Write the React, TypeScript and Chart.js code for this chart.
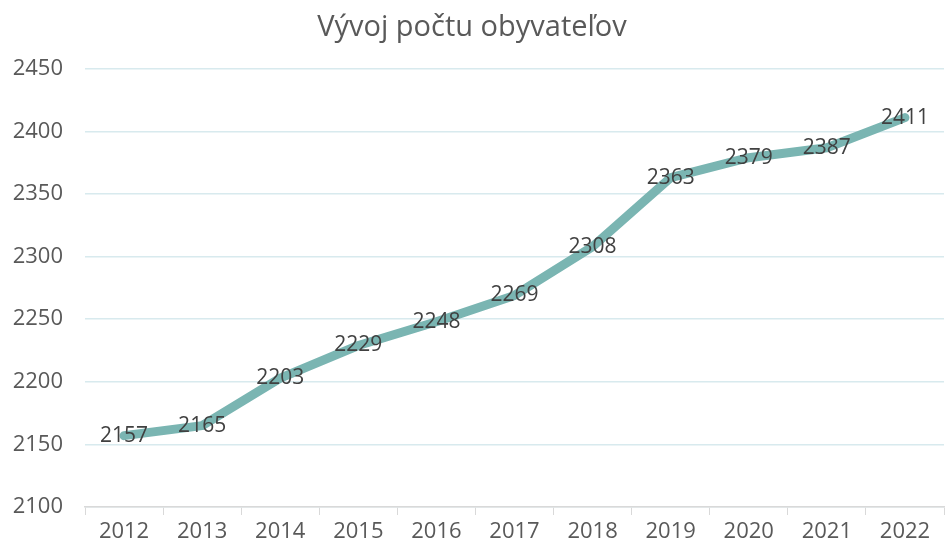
import React, { useEffect, useRef } from "react";
import { Chart, registerables } from "chart.js";

Chart.register(...registerables);

const TITLE = "Vývoj počtu obyvateľov";
const YEARS = ["2012", "2013", "2014", "2015", "2016", "2017", "2018", "2019", "2020", "2021", "2022"];
const POPULATION = [2157, 2165, 2203, 2229, 2248, 2269, 2308, 2363, 2379, 2387, 2411];
const Y_MIN = 2100;
const Y_MAX = 2450;
const Y_STEP = 50;

const FONT = "'Open Sans', Lato, sans-serif";

const labelPlugin = {
  id: "pointLabels",
  afterDatasetsDraw(chart: any) {
    const ctx = chart.ctx;
    const meta = chart.getDatasetMeta(0);
    ctx.save();
    ctx.font = `21px ${FONT}`;
    ctx.fillStyle = "#404040";
    ctx.textAlign = "center";
    ctx.textBaseline = "middle";
    meta.data.forEach((pt: any, i: number) => {
      ctx.fillText(String(chart.data.datasets[0].data[i]), pt.x, pt.y);
    });
    ctx.restore();
  },
};

export default function App() {
  const ref = useRef<HTMLCanvasElement>(null);
  useEffect(() => {
    document.body.style.margin = "0";
    const chart = new Chart(ref.current!, {
      type: "line",
      data: {
        labels: YEARS,
        datasets: [
          {
            data: POPULATION,
            borderColor: "#7ab5b2",
            borderWidth: 9,
            pointRadius: 0,
            borderJoinStyle: "round",
            borderCapStyle: "round",
            tension: 0,
          },
        ],
      },
      options: {
        animation: false,
        responsive: false,
        layout: { padding: { left: 0, right: 2, top: 0, bottom: 0 } },
        plugins: {
          legend: { display: false },
          tooltip: { enabled: false },
          title: {
            display: true,
            text: TITLE,
            color: "#595959",
            font: { family: FONT, size: 29, weight: "normal", lineHeight: 1.2 },
            padding: { top: 10, bottom: 24 },
          },
        },
        scales: {
          x: {
            offset: true,
            afterFit: (s: any) => {
              s.height = 39;
            },
            grid: {
              display: true,
              drawOnChartArea: false,
              drawTicks: true,
              tickLength: 8,
              color: "#d9d9d9",
              offset: true,
            },
            border: { color: "#d9d9d9", width: 1.5 },
            ticks: { color: "#595959", font: { family: FONT, size: 22 }, padding: 4 },
          },
          y: {
            min: Y_MIN,
            max: Y_MAX,
            afterFit: (s: any) => {
              s.width = 85;
            },
            ticks: {
              stepSize: Y_STEP,
              color: "#595959",
              font: { family: FONT, size: 22 },
              padding: 22,
              callback: (v: any) => String(v),
            },
            grid: { color: "#d8eaee", lineWidth: 1.5, drawTicks: false },
            border: { display: false },
          },
        },
      },
      plugins: [labelPlugin],
    });
    return () => chart.destroy();
  }, []);
  return (
    <div style={{ position: "absolute", left: 0, top: 0, width: 946, height: 546 }}>
      <canvas ref={ref} width={946} height={546} />
    </div>
  );
}
